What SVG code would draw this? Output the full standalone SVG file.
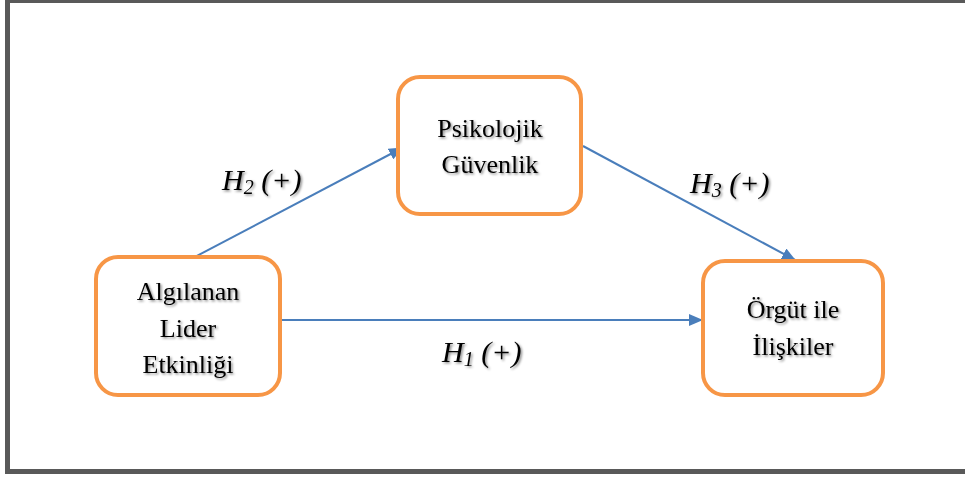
<svg xmlns="http://www.w3.org/2000/svg" width="965" height="477" viewBox="0 0 965 477">
<style>
.box{fill:#fff;stroke:#F79646;stroke-width:4}
.t{font-family:"Liberation Serif","Times New Roman",serif;font-size:26px;fill:#000;text-anchor:middle;filter:url(#sh)}
.h{font-family:"Liberation Serif","Times New Roman",serif;font-size:30px;font-style:italic;fill:#000;filter:url(#sh)}
.c{stroke:#4A7EBB;stroke-width:2;fill:none;marker-end:url(#ah)}
</style>
<defs>
<marker id="ah" viewBox="0 0 14 12" refX="13" refY="6" markerWidth="14" markerHeight="12" markerUnits="userSpaceOnUse" orient="auto">
<path d="M0,0 L14,6 L0,12 Z" fill="#4A7EBB"/>
</marker>
<filter id="sh" x="-10%" y="-30%" width="130%" height="160%">
<feDropShadow dx="1.5" dy="1.5" stdDeviation="1.2" flood-color="#000" flood-opacity="0.45"/>
</filter>
</defs>
<rect x="0" y="0" width="965" height="477" fill="#fff"/>
<rect x="7.5" y="0.5" width="1000" height="471" fill="none" stroke="#595959" stroke-width="5"/>
<g id="connectors">
<line class="c" x1="191" y1="259" x2="402" y2="148"/>
<line class="c" x1="583" y1="146" x2="795" y2="260"/>
<line class="c" x1="282" y1="320" x2="702" y2="320"/>
</g>
<g id="n1">
<rect class="box" x="96" y="257" width="184" height="138" rx="22"/>
<text class="t" x="188" y="300">Algılanan</text>
<text class="t" x="188" y="337">Lider</text>
<text class="t" x="188" y="373">Etkinliği</text>
</g>
<g id="n2">
<rect class="box" x="398" y="77" width="183" height="137" rx="22"/>
<text class="t" x="490" y="137">Psikolojik</text>
<text class="t" x="490" y="173">Güvenlik</text>
</g>
<g id="n3">
<rect class="box" x="703" y="261" width="180" height="134" rx="22"/>
<text class="t" x="793" y="318">Örgüt ile</text>
<text class="t" x="793" y="355">İlişkiler</text>
</g>
<g id="labels">
<text class="h" x="222" y="190">H<tspan font-size="20" dy="4">2</tspan><tspan dy="-4"> (+)</tspan></text>
<text class="h" x="690" y="193">H<tspan font-size="20" dy="4">3</tspan><tspan dy="-4"> (+)</tspan></text>
<text class="h" x="442" y="362">H<tspan font-size="20" dy="4">1</tspan><tspan dy="-4"> (+)</tspan></text>
</g>
</svg>
